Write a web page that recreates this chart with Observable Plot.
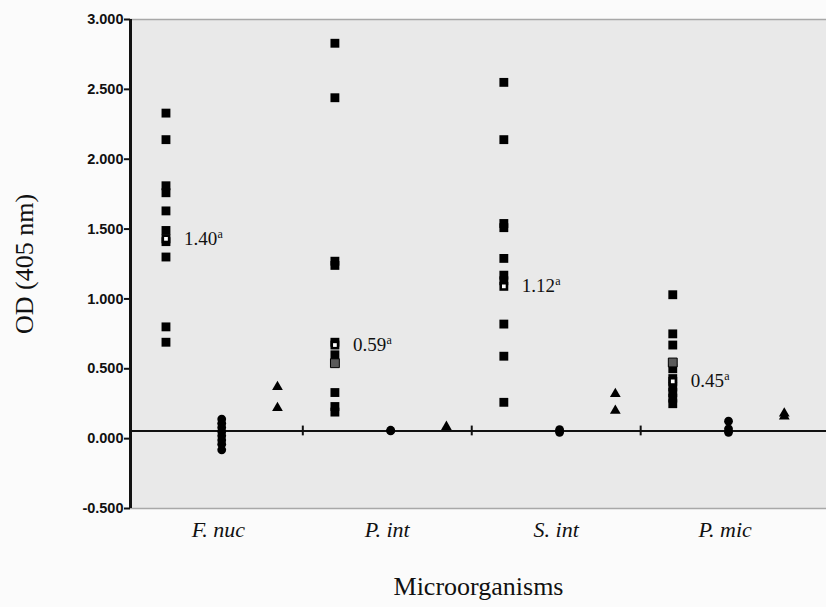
<!DOCTYPE html>
<html>
<head>
<meta charset="utf-8">
<script src="https://cdn.jsdelivr.net/npm/d3@7"></script>
<script src="https://cdn.jsdelivr.net/npm/@observablehq/plot@0.6"></script>
<style>
  html, body { margin: 0; padding: 0; background: #fbfbfb; }
  #chart { width: 826px; height: 607px; }
</style>
</head>
<body>
<div id="chart"></div>
<script>
// ---- data ----
const categories = ["F. nuc", "P. int", "S. int", "P. mic"];
const squareValues = [
  [2.33, 2.14, 1.81, 1.76, 1.63, 1.49, 1.41, 1.30, 0.80, 0.69],
  [2.83, 2.44, 1.27, 1.24, 0.69, 0.60, 0.33, 0.23, 0.19],
  [2.55, 2.14, 1.54, 1.51, 1.29, 1.17, 1.13, 0.82, 0.59, 0.26],
  [1.03, 0.75, 0.67, 0.50, 0.43, 0.37, 0.33, 0.29, 0.25]
];
const graySquareValues = [[], [0.54], [], [0.545]];
const circleValues = [
  [0.14, 0.11, 0.08, 0.05, 0.02, -0.01, -0.04, -0.08],
  [0.06, 0.055],
  [0.065, 0.045],
  [0.125, 0.07, 0.045]
];
const triangleValues = [
  [0.37, 0.22],
  [0.085],
  [0.32, 0.20],
  [0.18, 0.16]
];
const meanMarkers = [1.43, 0.67, 1.09, 0.41];
const meanLabels = ["1.40", "0.59", "1.12", "0.45"];
const meanSuperscript = "a";
const cutoff = 0.055;
const yTicks = [-0.5, 0, 0.5, 1, 1.5, 2, 2.5, 3];
const separators = [1, 2, 3];
const yTitle = "OD (405 nm)";
const xTitle = "Microorganisms";

// ---- layout constants (not data) ----
const offset = {square: 0.19, circle: 0.52, triangle: 0.85};

const rows = (vals, kind) => vals.flatMap((arr, i) => arr.map(v => ({i, v, kind})));
const squares = rows(squareValues, "square");
const grays = rows(graySquareValues, "square");
const circles = rows(circleValues, "circle");
const triangles = rows(triangleValues, "triangle");
const means = meanMarkers.map((v, i) => ({i, v, label: meanLabels[i]}));
const catRows = categories.map((c, i) => ({i, c}));

const serif = "'Liberation Serif', 'Times New Roman', serif";
const sans = "'Liberation Sans', Arial, sans-serif";

const chart = Plot.plot({
  width: 826,
  height: 607,
  marginTop: 19,
  marginBottom: 99,
  marginLeft: 130,
  marginRight: 0,
  style: {background: "#fbfbfb", fontFamily: sans, color: "#111"},
  x: {domain: [-0.02, 4.1], axis: null},
  y: {domain: [-0.5, 3], axis: null},
  marks: [
    Plot.frame({fill: "#e9e9e9", stroke: null}),
    Plot.ruleY([-0.5, 3], {stroke: "#a8a8a8", strokeWidth: 1.5}),
    Plot.axisY({
      ticks: yTicks,
      tickFormat: d => d.toFixed(3),
      tickSize: 6,
      tickPadding: 1,
      strokeWidth: 2,
      fontSize: 14.5,
      fontWeight: "bold",
      fontFamily: sans,
      label: null
    }),
    Plot.ruleX([-0.02], {stroke: "#111", strokeWidth: 3}),
    Plot.ruleY([cutoff], {stroke: "#111", strokeWidth: 2}),
    Plot.ruleX(separators, {y1: cutoff - 0.035, y2: cutoff + 0.035, stroke: "#111", strokeWidth: 2}),
    Plot.dot(squares, {x: d => d.i + offset.square, y: "v", symbol: "square", r: 5, fill: "#000", stroke: null}),
    Plot.dot(grays, {x: d => d.i + offset.square, y: "v", symbol: "square", r: 5, fill: "#5a5a5a", stroke: "#000", strokeWidth: 1}),
    Plot.dot(circles, {x: d => d.i + offset.circle, y: "v", symbol: "circle", r: 4.4, fill: "#000", stroke: null}),
    Plot.dot(triangles, {x: d => d.i + offset.triangle, y: "v", symbol: "triangle", r: 4, fill: "#000", stroke: null}),
    Plot.dot(means, {x: d => d.i + offset.square, y: "v", symbol: "square", r: 5, fill: "#000", stroke: null}),
    Plot.dot(means, {x: d => d.i + offset.square, y: "v", symbol: "square", r: 2.1, fill: "#fff", stroke: null}),
    Plot.text(means, {x: d => d.i + offset.square, y: "v", text: "label", dx: 18, textAnchor: "start", fontSize: 19, fontFamily: serif, fill: "#111"}),
    Plot.text(means, {x: d => d.i + offset.square, y: "v", text: () => meanSuperscript, dx: 18 + 33.5, dy: -5, textAnchor: "start", fontSize: 12, fontFamily: serif, fill: "#111"}),
    Plot.text(catRows, {x: d => d.i + 0.5, y: -0.5, text: "c", dy: 21, fontSize: 22, fontStyle: "italic", fontFamily: serif, fill: "#111"}),
    Plot.text([xTitle], {frameAnchor: "bottom", dy: 86, fontSize: 26, fontFamily: serif, fill: "#111"}),
    Plot.text([yTitle], {frameAnchor: "left", dx: -106, rotate: -90, textAnchor: "middle", fontSize: 26, fontFamily: serif, fill: "#111"})
  ]
});
document.getElementById("chart").appendChild(chart);
</script>
</body>
</html>
